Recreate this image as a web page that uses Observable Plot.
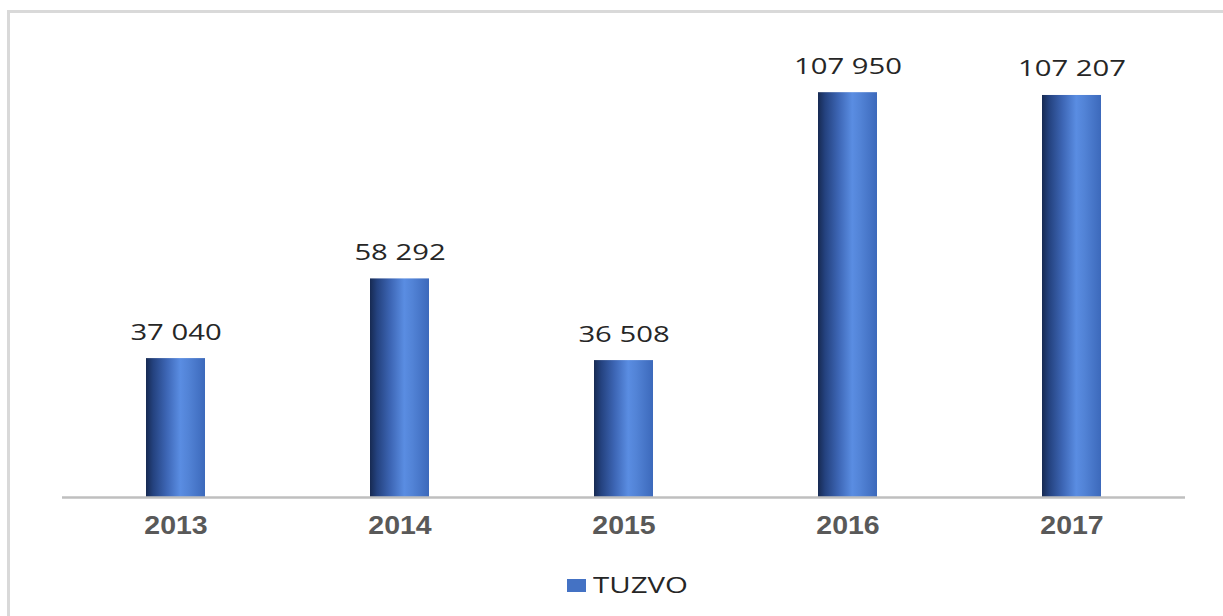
<!DOCTYPE html>
<html>
<head>
<meta charset="utf-8">
<script src="https://cdn.jsdelivr.net/npm/d3@7"></script>
<script src="https://cdn.jsdelivr.net/npm/@observablehq/plot@0.6"></script>
<style>
  html, body { margin: 0; padding: 0; background: #fff; width: 1223px; height: 616px; overflow: hidden; }
  #wrap { position: relative; width: 1223px; height: 616px; }
  #frame { position: absolute; left: 7px; top: 10px; width: 1300px; height: 700px;
           border-top: 3px solid #d9d9d9; border-left: 3px solid #d9d9d9; pointer-events: none; }
  #chart { position: absolute; left: 0; top: 0; }
  #legend { position: absolute; left: 0; top: 560px; width: 1223px; height: 56px; }
  #legend .sw { position: absolute; left: 567px; top: 19px; width: 19px; height: 13px; background: #4472c4; }
  #legend .lb { position: absolute; left: 593px; top: 14.6px; font: 21px/1 "Open Sans", sans-serif; color: #262626;
                transform: scaleX(1.4); transform-origin: left center; white-space: nowrap; }
</style>
</head>
<body>
<div id="wrap">
  <div id="chart"></div>
  <div id="legend"></div>
  <div id="frame"></div>
</div>
<script>
const years = ["2013", "2014", "2015", "2016", "2017"];
const values = [37040, 58292, 36508, 107950, 107207];
const seriesName = "TUZVO";

const data = years.map((y, i) => ({year: y, value: values[i]}));
const fmt = d3.formatLocale({decimal: ",", thousands: " ", grouping: [3], currency: ["", ""]}).format(",d");
const labelSet = new Set(values.map(fmt));

const chart = Plot.plot({
  width: 1223,
  height: 560,
  marginLeft: 62,
  marginRight: 38,
  marginTop: 47,
  marginBottom: 63,
  style: {background: "transparent", fontFamily: "'Open Sans', sans-serif", overflow: "visible"},
  x: {domain: years, paddingInner: 0.737, paddingOuter: 0.3685, label: null},
  y: {domain: [0, 120000], axis: null},
  marks: [
    Plot.barY(data, {x: "year", y: "value", fill: "url(#barGrad)"}),
    Plot.ruleY([0], {stroke: "#bfbfbf", strokeWidth: 2.5}),
    Plot.text(data, {x: "year", y: "value", text: d => fmt(d.value), lineAnchor: "bottom", dy: -19,
      fontSize: 22, fill: "#262626"}),
    Plot.axisX({tickSize: 0, tickPadding: 19, fontSize: 25, fontWeight: "bold", fill: "#595959",
      fontFamily: "'Liberation Sans', Arial, sans-serif", label: null})
  ]
});

// gradient definition for bars
const ns = "http://www.w3.org/2000/svg";
const defs = document.createElementNS(ns, "defs");
const grad = document.createElementNS(ns, "linearGradient");
grad.setAttribute("id", "barGrad");
grad.setAttribute("x1", "0"); grad.setAttribute("x2", "1");
grad.setAttribute("y1", "0"); grad.setAttribute("y2", "0");
[[0, "#172a52"], [0.12, "#24427f"], [0.35, "#3d66b5"], [0.58, "#5a8de2"], [0.72, "#5283d6"], [1, "#3c69bb"]].forEach(([o, c]) => {
  const s = document.createElementNS(ns, "stop");
  s.setAttribute("offset", o);
  s.setAttribute("stop-color", c);
  grad.appendChild(s);
});
defs.appendChild(grad);
chart.insertBefore(defs, chart.firstChild);

// horizontal stretch of text glyphs as in the reference
chart.querySelectorAll("text").forEach(t => {
  const tr = t.getAttribute("transform") || "";
  if (labelSet.has(t.textContent)) {
    t.setAttribute("transform", tr + " scale(1.33,1)");
  } else if (years.includes(t.textContent)) {
    t.setAttribute("transform", tr + " scale(1.14,1)");
  }
});

document.getElementById("chart").appendChild(chart);

const legend = document.getElementById("legend");
legend.innerHTML = `<div class="sw"></div><div class="lb"></div>`;
legend.querySelector(".lb").textContent = seriesName;
</script>
</body>
</html>
